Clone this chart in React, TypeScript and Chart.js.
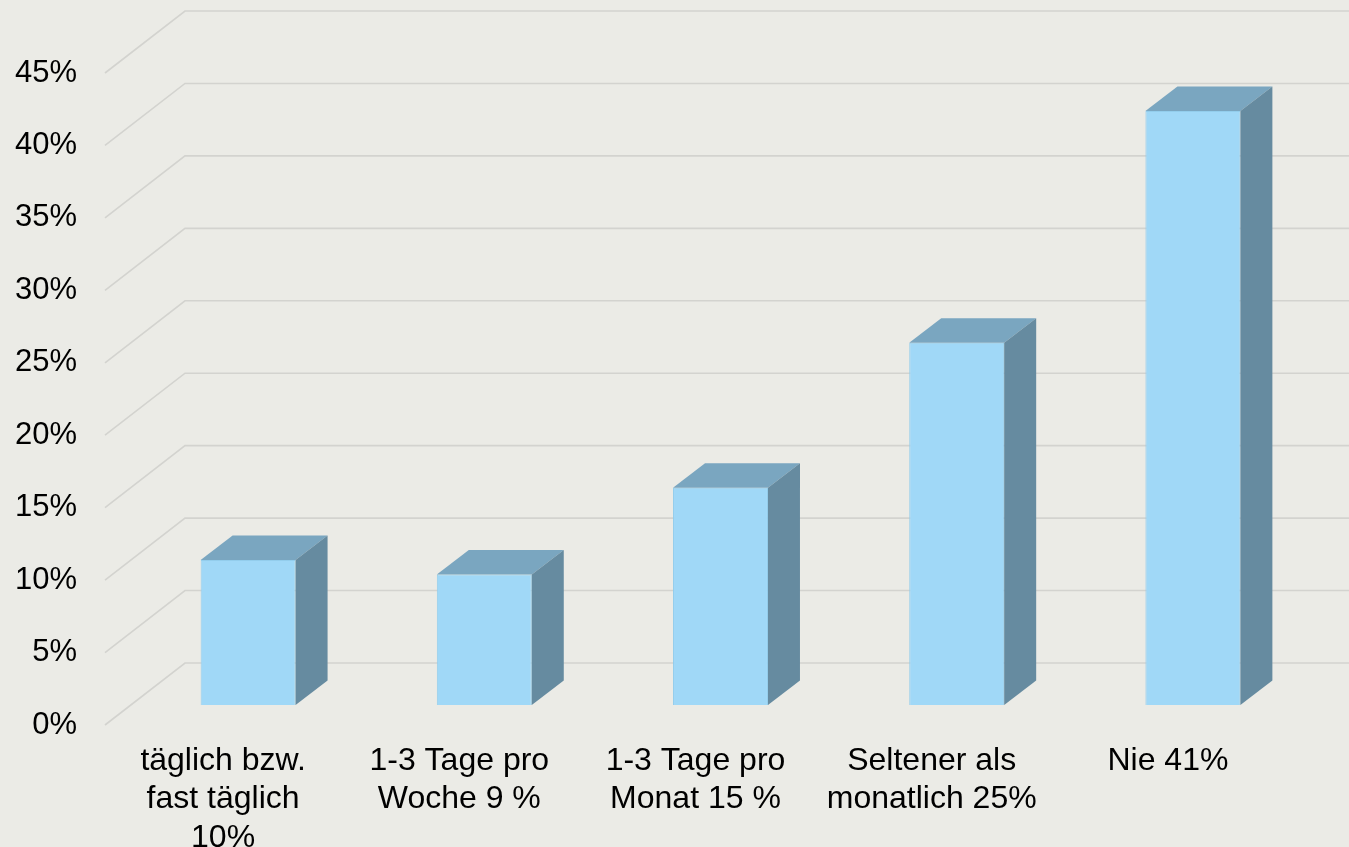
import React, { useEffect, useRef } from "react";
import { Chart, registerables } from "chart.js";

Chart.register(...registerables);

// ---- data ----
const categories: (string | string[])[] = [
  ["täglich bzw.", "fast täglich", "10%"],
  ["1-3 Tage pro", "Woche 9 %"],
  ["1-3 Tage pro", "Monat 15 %"],
  ["Seltener als", "monatlich 25%"],
  "Nie 41%",
];
const values = [10, 9, 15, 25, 41];
const yMin = 0;
const yMax = 45;
const yStep = 5;

// ---- styles ----
const BG = "#EBEBE6";
const GRID = "#D3D3CF";
const FRONT = "#A0D8F7";
const TOP = "#7AA6C0";
const SIDE = "#668BA0";
const FONT = "'Liberation Sans', Arial, sans-serif";

const WALL = { dx: 80, dy: -62 };
const BAR = { dx: 25, dy: -20 };
const DEPTH = { dx: 32, dy: -24.5 };

const threeD = {
  id: "threeD",
  beforeDraw(chart: any) {
    const { ctx, width, height } = chart;
    ctx.save();
    ctx.fillStyle = BG;
    ctx.fillRect(0, 0, width, height);
    ctx.restore();
  },
  beforeDatasetsDraw(chart: any) {
    const { ctx, chartArea } = chart;
    const y = chart.scales.y;
    ctx.save();
    ctx.strokeStyle = GRID;
    ctx.lineWidth = 1.6;
    for (const t of y.ticks) {
      const py = y.getPixelForValue(t.value);
      ctx.beginPath();
      ctx.moveTo(chartArea.left, py);
      ctx.lineTo(chartArea.left + WALL.dx, py + WALL.dy);
      ctx.lineTo(chartArea.right + WALL.dx, py + WALL.dy);
      ctx.stroke();
    }
    ctx.restore();
    ctx.save();
    ctx.translate(BAR.dx, BAR.dy);
  },
  afterDatasetsDraw(chart: any) {
    const { ctx } = chart;
    ctx.restore();
    const meta = chart.getDatasetMeta(0);
    ctx.save();
    for (const el of meta.data) {
      const p = el.getProps(["x", "y", "base", "width"], true);
      const l = p.x - p.width / 2 + BAR.dx;
      const r = p.x + p.width / 2 + BAR.dx;
      const t = p.y + BAR.dy;
      const b = p.base + BAR.dy;
      // top face
      ctx.fillStyle = TOP;
      ctx.beginPath();
      ctx.moveTo(l, t);
      ctx.lineTo(r, t);
      ctx.lineTo(r + DEPTH.dx, t + DEPTH.dy);
      ctx.lineTo(l + DEPTH.dx, t + DEPTH.dy);
      ctx.closePath();
      ctx.fill();
      // side face
      ctx.fillStyle = SIDE;
      ctx.beginPath();
      ctx.moveTo(r, t);
      ctx.lineTo(r + DEPTH.dx, t + DEPTH.dy);
      ctx.lineTo(r + DEPTH.dx, b + DEPTH.dy);
      ctx.lineTo(r, b);
      ctx.closePath();
      ctx.fill();
    }
    ctx.restore();
  },
};

export default function App() {
  const ref = useRef<HTMLCanvasElement | null>(null);
  useEffect(() => {
    document.body.style.margin = "0";
    document.body.style.background = BG;
    const canvas = ref.current!;
    const chart = new Chart(canvas, {
      type: "bar",
      data: {
        labels: categories as any,
        datasets: [
          {
            data: values,
            backgroundColor: FRONT,
            borderColor: "#93CDEC",
            borderWidth: 1,
            barPercentage: 0.402,
            categoryPercentage: 1,
          },
        ],
      },
      options: {
        responsive: false,
        animation: false,
        devicePixelRatio: 1,
        layout: { padding: { top: 73, right: 63, left: 0, bottom: 0 } },
        plugins: { legend: { display: false }, tooltip: { enabled: false } },
        scales: {
          x: {
            grid: { display: false, drawTicks: false },
            border: { display: false },
            ticks: {
              color: "#000",
              font: { family: FONT, size: 32 },
              padding: 17,
              maxRotation: 0,
              autoSkip: false,
            },
            afterFit(scale: any) {
              scale.height = 122;
            },
          },
          y: {
            min: yMin,
            max: yMax,
            grid: { display: false, drawTicks: false },
            border: { display: false },
            ticks: {
              stepSize: yStep,
              color: "#000",
              font: { family: FONT, size: 31 },
              padding: 28,
              callback: (v: any) => v + "%",
            },
            afterFit(scale: any) {
              scale.width = 105;
            },
          },
        },
      },
      plugins: [threeD],
    });
    return () => chart.destroy();
  }, []);
  return (
    <div style={{ width: 1349, height: 847, background: BG }}>
      <canvas ref={ref} width={1349} height={847} style={{ display: "block" }} />
    </div>
  );
}
